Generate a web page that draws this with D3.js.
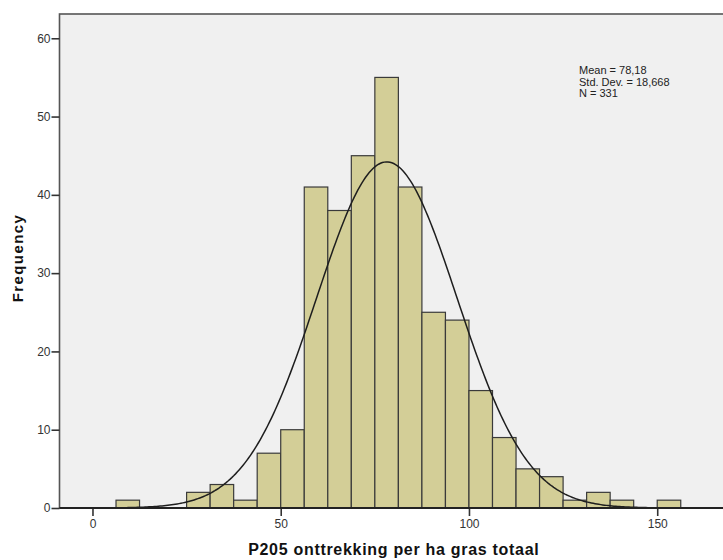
<!DOCTYPE html>
<html>
<head>
<meta charset="utf-8">
<script src="https://cdn.jsdelivr.net/npm/d3@7"></script>
<style>
  body { margin: 0; background: #fff; }
  svg { font-family: Arial, "Liberation Sans", sans-serif; }
</style>
</head>
<body>
<div id="chart"></div>
<script>
// Histogram bins (lower edge, width 6.25) and their counts
const binStarts = [6.25, 12.5, 18.75, 25, 31.25, 37.5, 43.75, 50, 56.25, 62.5, 68.75, 75,
  81.25, 87.5, 93.75, 100, 106.25, 112.5, 118.75, 125, 131.25, 137.5, 143.75, 150];
const binCounts = [1, 0, 0, 2, 3, 1, 7, 10, 41, 38, 45, 55,
  41, 25, 24, 15, 9, 5, 4, 1, 2, 1, 0, 1];
const binWidth = 6.25;
const xTicks = [0, 50, 100, 150];
const yTicks = [0, 10, 20, 30, 40, 50, 60];
const mean = 78.18, stdDev = 18.668, n = 331;
const statLines = ["Mean = 78,18", "Std. Dev. = 18,668", "N = 331"];

const width = 723, height = 560;
const plot = { left: 59.5, top: 14, right: 728, bottom: 508 };

const svg = d3.select("#chart").append("svg")
  .attr("width", width)
  .attr("height", height);

const x = d3.scaleLinear().domain([-8.76, 168.8]).range([plot.left, plot.right]);
const y = d3.scaleLinear().domain([0, 63.1]).range([plot.bottom, plot.top]);

// Plot background
svg.append("rect")
  .attr("x", plot.left).attr("y", plot.top)
  .attr("width", plot.right - plot.left).attr("height", plot.bottom - plot.top)
  .attr("fill", "#f0f0f0")
  .attr("stroke", "#555")
  .attr("stroke-width", 1.6);

// Bars
const bins = binStarts.map((s, i) => ({ x0: s, x1: s + binWidth, count: binCounts[i] }))
  .filter(d => d.count > 0);

svg.append("g")
  .selectAll("rect")
  .data(bins)
  .enter().append("rect")
  .attr("x", d => x(d.x0))
  .attr("y", d => y(d.count))
  .attr("width", d => x(d.x1) - x(d.x0))
  .attr("height", d => y(0) - y(d.count))
  .attr("fill", "#d3ce97")
  .attr("stroke", "#3a3a3a")
  .attr("stroke-width", 1.2);

// Normal curve scaled to counts
const scaleK = n * binWidth / (stdDev * Math.sqrt(2 * Math.PI));
const curvePts = d3.range(-8, 169, 0.5).map(v => [v, scaleK * Math.exp(-0.5 * ((v - mean) / stdDev) ** 2)]);

svg.append("path")
  .datum(curvePts)
  .attr("fill", "none")
  .attr("stroke", "#1e1e1e")
  .attr("stroke-width", 1.5)
  .attr("d", d3.line().x(d => x(d[0])).y(d => y(d[1])));

// Axes
const yAxis = svg.append("g")
  .attr("transform", `translate(${plot.left},0)`)
  .call(d3.axisLeft(y).tickValues(yTicks).tickSize(8).tickPadding(1));
yAxis.select(".domain").remove();

const xAxis = svg.append("g")
  .attr("transform", `translate(0,${plot.bottom})`)
  .call(d3.axisBottom(x).tickValues(xTicks).tickSize(8).tickPadding(3));
xAxis.select(".domain").remove();

svg.selectAll(".tick line").attr("stroke", "#333").attr("stroke-width", 1.6);
svg.selectAll(".tick text").attr("fill", "#333").style("font-size", "12px");

// Baseline
svg.append("line")
  .attr("x1", plot.left).attr("x2", width)
  .attr("y1", plot.bottom).attr("y2", plot.bottom)
  .attr("stroke", "#222").attr("stroke-width", 2);

// Stats box
svg.append("g")
  .selectAll("text")
  .data(statLines)
  .enter().append("text")
  .attr("x", 579)
  .attr("y", (d, i) => 74 + i * 11.5)
  .style("font-size", "11px")
  .attr("fill", "#222")
  .text(d => d);

// Axis titles
svg.append("text")
  .attr("x", (plot.left + plot.right) / 2)
  .attr("y", 555)
  .attr("text-anchor", "middle")
  .style("font-size", "16px")
  .style("font-weight", "bold")
  .style("letter-spacing", "0.7px")
  .attr("fill", "#111")
  .text("P205 onttrekking per ha gras totaal");

svg.append("text")
  .attr("transform", `translate(23,${(plot.top + plot.bottom) / 2 - 3}) rotate(-90)`)
  .attr("text-anchor", "middle")
  .style("font-size", "15px")
  .style("font-weight", "bold")
  .style("letter-spacing", "1.4px")
  .attr("fill", "#111")
  .text("Frequency");
</script>
</body>
</html>
